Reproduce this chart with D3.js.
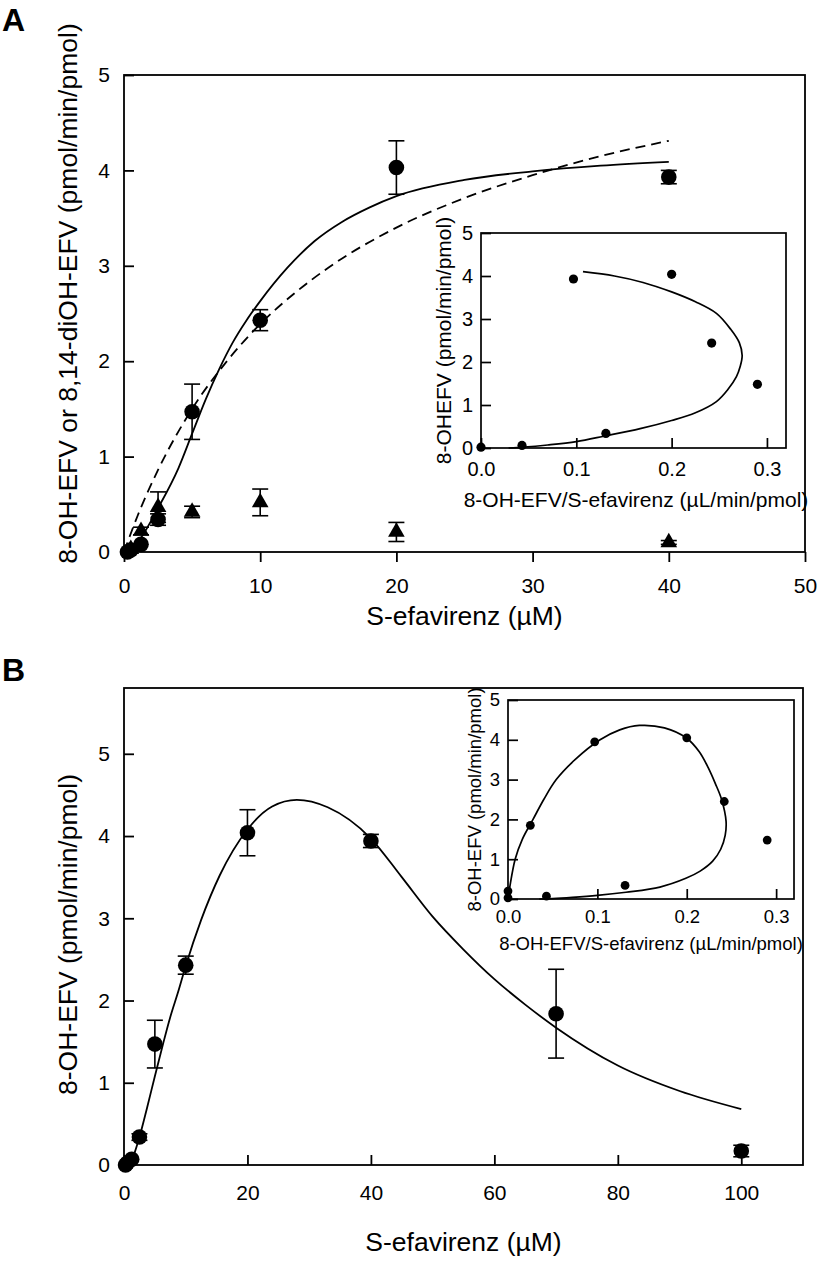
<!DOCTYPE html>
<html><head><meta charset="utf-8">
<script src="https://cdn.jsdelivr.net/npm/d3@7"></script>
<style>body{margin:0;background:#fff;}</style>
</head><body>
<svg id="c" width="819" height="1261" xmlns="http://www.w3.org/2000/svg"></svg>
<script>
// ---------- Panel A data ----------
const concA = [0.25, 0.5, 1.25, 2.5, 5, 10, 20, 40];
const ohEfvA = [0.0, 0.02, 0.08, 0.34, 1.47, 2.43, 4.03, 3.93];
const ohEfvA_sd = [0, 0, 0, 0.06, 0.29, 0.11, 0.28, 0.07];
const concTri = [0.5, 1.25, 2.5, 5, 10, 20, 40];
const diOhEfv = [0.03, 0.22, 0.47, 0.42, 0.52, 0.21, 0.10];
const diOhEfv_sd = [0, 0.04, 0.16, 0.06, 0.14, 0.10, 0.02];
// fitted curves
const fitA_solid_x = [0, 0.5, 1.25, 2.5, 4, 5, 6, 7, 8, 9, 10, 12, 14, 16, 18, 20, 25, 30, 35, 40];
const fitA_solid_y = [0, 0.02, 0.15, 0.46, 0.88, 1.24, 1.6, 1.92, 2.2, 2.43, 2.63, 2.98, 3.26, 3.46, 3.61, 3.73, 3.9, 3.99, 4.05, 4.09];
const fitA_dash_x = [0, 1, 2.5, 5, 7.5, 10, 12.5, 15, 20, 25, 30, 35, 40];
const fitA_dash_y = [0, 0.38, 0.86, 1.5, 1.99, 2.39, 2.71, 2.98, 3.4, 3.71, 3.95, 4.15, 4.31];
// inset A (Eadie-Hofstee)
const eadieA_x = [0.0, 0.043, 0.097, 0.131, 0.2, 0.242, 0.29];
const eadieA_y = [0.02, 0.06, 3.93, 0.34, 4.04, 2.44, 1.48];
const insetA_fx = [0.107, 0.14, 0.17, 0.2, 0.225, 0.247, 0.262, 0.271, 0.274, 0.272, 0.268, 0.259, 0.247, 0.225, 0.2, 0.167, 0.13, 0.1, 0.07, 0.045, 0.029];
const insetA_fy = [4.1, 4.0, 3.85, 3.63, 3.4, 3.13, 2.76, 2.45, 2.15, 1.9, 1.66, 1.36, 1.08, 0.82, 0.64, 0.45, 0.28, 0.15, 0.07, 0.02, 0];

// ---------- Panel B data ----------
const concB = [0.25, 0.5, 1.25, 2.5, 5, 10, 20, 40, 70, 100];
const ohEfvB = [0.0, 0.02, 0.07, 0.34, 1.47, 2.43, 4.04, 3.94, 1.84, 0.17];
const ohEfvB_sd = [0, 0, 0, 0.04, 0.29, 0.11, 0.28, 0.08, 0.54, 0.07];
const fitB_x = [0, 0.7, 1.25, 2.5, 3.75, 5, 6.25, 7.5, 8.75, 10, 12.5, 15.5, 20, 24, 28, 33, 40, 45, 50, 55, 60, 65, 70, 80, 90, 100];
const fitB_y = [0, 0, 0.06, 0.34, 0.7, 1.08, 1.45, 1.8, 2.1, 2.42, 2.98, 3.52, 4.08, 4.36, 4.44, 4.35, 3.97, 3.5, 3.02, 2.62, 2.26, 1.95, 1.67, 1.21, 0.9, 0.68];
const eadieB_x = [0.0, 0.0, 0.025, 0.043, 0.097, 0.131, 0.2, 0.242, 0.29];
const eadieB_y = [0.2, 0.03, 1.85, 0.07, 3.95, 0.34, 4.05, 2.45, 1.48];
const insetB_fx = [0, 0.002, 0.008, 0.016, 0.028, 0.04, 0.054, 0.075, 0.103, 0.125, 0.147, 0.175, 0.2, 0.214, 0.224, 0.232, 0.239, 0.244, 0.243, 0.238, 0.229, 0.215, 0.199, 0.17, 0.132, 0.1, 0.072, 0.05, 0.035];
const insetB_fy = [0, 0.3, 1.0, 1.5, 2.0, 2.5, 3.0, 3.5, 4.0, 4.25, 4.36, 4.3, 4.04, 3.7, 3.3, 2.9, 2.5, 1.95, 1.6, 1.25, 0.95, 0.7, 0.52, 0.3, 0.17, 0.09, 0.04, 0.01, 0];

// ---------- ticks & labels ----------
const xTicksA = [0, 10, 20, 30, 40, 50];
const yTicksA = [0, 1, 2, 3, 4, 5];
const xTicksB = [0, 20, 40, 60, 80, 100];
const yTicksB = [0, 1, 2, 3, 4, 5];
const insetTicksX = [0, 0.1, 0.2, 0.3];
const insetTicksY = [0, 1, 2, 3, 4, 5];
const xTitle = "S-efavirenz (µM)";
const yTitleA = "8-OH-EFV or 8,14-diOH-EFV (pmol/min/pmol)";
const yTitleB = "8-OH-EFV (pmol/min/pmol)";
const insetXTitle = "8-OH-EFV/S-efavirenz (µL/min/pmol)";
const insetYTitleA = "8-OHEFV (pmol/min/pmol)";
const insetYTitleB = "8-OH-EFV (pmol/min/pmol)";

const FONT = 'Arial, "Liberation Sans", Helvetica, sans-serif';
const svg = d3.select("#c");
svg.append("rect").attr("width", 819).attr("height", 1261).attr("fill", "#fff");

function zip(a, b) { return a.map((v, i) => [v, b[i]]); }

function frame(g, x, y, o) {
  const [xa, xb] = x.range();
  const [yb, ya] = y.range();
  g.append("rect").attr("x", xa).attr("y", ya).attr("width", xb - xa).attr("height", yb - ya)
    .attr("fill", "#fff").attr("stroke", "none");
  const ax = d3.axisBottom(x).tickValues(o.xt).tickSizeInner(o.xTick).tickSizeOuter(0)
    .tickPadding(o.xPad).tickFormat(o.xf);
  const gx = g.append("g").attr("transform", `translate(0,${yb})`).call(ax);
  gx.select(".domain").remove();
  gx.selectAll("line").attr("stroke", "#000").attr("stroke-width", o.sw);
  gx.selectAll("text").attr("font-size", o.fs).attr("font-family", FONT).attr("fill", "#000");
  const ay = d3.axisLeft(y).tickValues(o.yt).tickSizeInner(o.yTick).tickSizeOuter(0)
    .tickPadding(o.yPad).tickFormat(d3.format("d"));
  const gy = g.append("g").attr("transform", `translate(${xa},0)`).call(ay);
  gy.select(".domain").remove();
  gy.selectAll("line").attr("stroke", "#000").attr("stroke-width", o.sw);
  gy.selectAll("text").attr("font-size", o.fs).attr("font-family", FONT).attr("fill", "#000");
  g.append("rect").attr("x", xa).attr("y", ya).attr("width", xb - xa).attr("height", yb - ya)
    .attr("fill", "none").attr("stroke", "#000").attr("stroke-width", o.sw);
  // titles
  g.append("text").attr("x", o.xTitleX || (xa + xb) / 2).attr("y", o.xTitleY).attr("text-anchor", "middle")
    .attr("font-size", o.tfs).attr("font-family", FONT).text(o.xTitle);
  g.append("text").attr("transform", `translate(${o.yTitleX},${(ya + yb) / 2 + (o.yTitleDy || 0)}) rotate(-90)`)
    .attr("text-anchor", "middle").attr("dominant-baseline", "central")
    .attr("font-size", o.tfs).attr("font-family", FONT).text(o.yTitle);
}

function curve(g, x, y, xs, ys, dash, curveType, sw) {
  const line = d3.line().x(d => x(d[0])).y(d => y(d[1])).curve(curveType);
  g.append("path").attr("d", line(zip(xs, ys))).attr("fill", "none").attr("stroke", "#000")
    .attr("stroke-width", sw).attr("stroke-dasharray", dash || null);
}

function errBars(g, x, y, xs, ys, sds, cap) {
  xs.forEach((v, i) => {
    const s = sds[i];
    if (!s) return;
    const cx = x(v), y1 = y(ys[i] + s), y2 = y(Math.max(0, ys[i] - s));
    g.append("line").attr("x1", cx).attr("x2", cx).attr("y1", y1).attr("y2", y2).attr("stroke", "#000").attr("stroke-width", 1.6);
    [y1, y2].forEach(yy => g.append("line").attr("x1", cx - cap / 2).attr("x2", cx + cap / 2)
      .attr("y1", yy).attr("y2", yy).attr("stroke", "#000").attr("stroke-width", 1.6));
  });
}

function dots(g, x, y, xs, ys, r) {
  g.selectAll(null).data(zip(xs, ys)).enter().append("circle")
    .attr("cx", d => x(d[0])).attr("cy", d => y(d[1])).attr("r", r).attr("fill", "#000");
}

// ================= Panel A =================
const gA = svg.append("g");
const xA = d3.scaleLinear().domain([0, 50]).range([124, 805]);
const yA = d3.scaleLinear().domain([0, 5]).range([552, 75]);
frame(gA, xA, yA, {
  xt: xTicksA, yt: yTicksA, xTick: 10, yTick: -10, xPad: 16, yPad: 14, xf: d3.format("d"),
  sw: 1.8, fs: 21, tfs: 26.5, xTitle: xTitle, xTitleY: 625, yTitle: yTitleA, yTitleX: 68, yTitleDy: -20
});
curve(gA, xA, yA, fitA_dash_x, fitA_dash_y, "10,6", d3.curveMonotoneX, 1.8);
curve(gA, xA, yA, fitA_solid_x, fitA_solid_y, null, d3.curveMonotoneX, 1.8);
errBars(gA, xA, yA, concTri, diOhEfv, diOhEfv_sd, 16);
errBars(gA, xA, yA, concA, ohEfvA, ohEfvA_sd, 16);
const tri = d3.symbol(d3.symbolTriangle).size(120);
gA.selectAll(null).data(zip(concTri, diOhEfv)).enter().append("path")
  .attr("d", tri).attr("transform", d => `translate(${xA(d[0])},${yA(d[1])})`).attr("fill", "#000");
dots(gA, xA, yA, concA, ohEfvA, 7.8);

// inset A
const giA = svg.append("g");
const xiA = d3.scaleLinear().domain([0, 0.32]).range([481, 786]);
const yiA = d3.scaleLinear().domain([0, 5]).range([448, 233]);
frame(giA, xiA, yiA, {
  xt: insetTicksX, yt: insetTicksY, xTick: -10, yTick: -10, xPad: 14, yPad: 8, xf: d3.format(".1f"),
  sw: 1.7, fs: 20, tfs: 21, xTitle: insetXTitle, xTitleX: 636, xTitleY: 507, yTitle: insetYTitleA, yTitleX: 443
});
curve(giA, xiA, yiA, insetA_fx, insetA_fy, null, d3.curveCatmullRom.alpha(0.5), 1.7);
dots(giA, xiA, yiA, eadieA_x, eadieA_y, 4.6);

// panel letters
svg.append("text").attr("x", 2).attr("y", 31).attr("font-size", 32).attr("font-weight", "bold")
  .attr("font-family", FONT).text("A");
svg.append("text").attr("x", 2).attr("y", 681).attr("font-size", 32).attr("font-weight", "bold")
  .attr("font-family", FONT).text("B");

// ================= Panel B =================
const gB = svg.append("g");
const xB = d3.scaleLinear().domain([0, 110]).range([124, 803]);
const yB = d3.scaleLinear().domain([0, 5.8]).range([1165, 688]);
frame(gB, xB, yB, {
  xt: xTicksB, yt: yTicksB, xTick: -10, yTick: -10, xPad: 20, yPad: 14, xf: d3.format("d"),
  sw: 1.8, fs: 21, tfs: 26.5, xTitle: xTitle, xTitleY: 1251, yTitle: yTitleB, yTitleX: 68, yTitleDy: 8
});
curve(gB, xB, yB, fitB_x, fitB_y, null, d3.curveMonotoneX, 1.8);
errBars(gB, xB, yB, concB, ohEfvB, ohEfvB_sd, 16);
dots(gB, xB, yB, concB, ohEfvB, 7.8);

// inset B
const giB = svg.append("g");
const xiB = d3.scaleLinear().domain([0, 0.32]).range([508, 794]);
const yiB = d3.scaleLinear().domain([0, 5]).range([899, 700]);
frame(giB, xiB, yiB, {
  xt: insetTicksX, yt: insetTicksY, xTick: -10, yTick: -10, xPad: 11, yPad: 8, xf: d3.format(".1f"),
  sw: 1.7, fs: 18.5, tfs: 18.5, xTitle: insetXTitle, xTitleY: 950, yTitle: insetYTitleB, yTitleX: 474
});
curve(giB, xiB, yiB, insetB_fx, insetB_fy, null, d3.curveCatmullRom.alpha(0.5), 1.7);
dots(giB, xiB, yiB, eadieB_x, eadieB_y, 4.4);
</script>
</body></html>
